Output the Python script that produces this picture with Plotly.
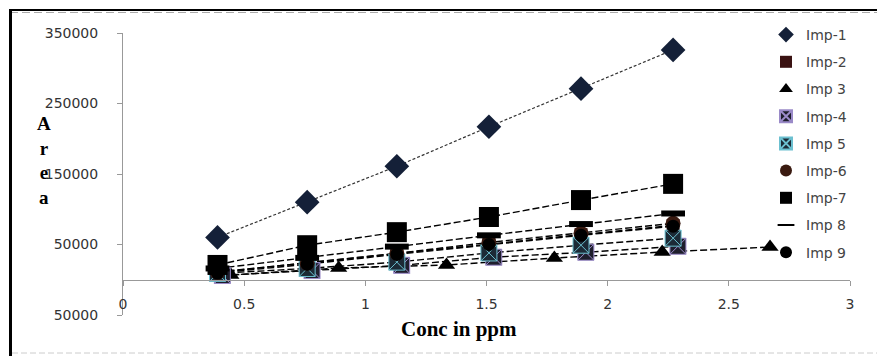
import plotly.graph_objects as go

# ---- data ----
conc = [0.39, 0.76, 1.13, 1.51, 1.89, 2.27]
conc_imp3 = [0.445, 0.89, 1.335, 1.78, 2.225, 2.67]
conc_imp4 = [0.41, 0.78, 1.15, 1.53, 1.91, 2.29]

imp1 = [60000, 110000, 161000, 217000, 271000, 326000]
imp2 = [11000, 24000, 38000, 51000, 64000, 77000]
imp3 = [6700, 16700, 20900, 30800, 39300, 46400]
imp4 = [6000, 13000, 20500, 32000, 39000, 47500]
imp5 = [9000, 16000, 25000, 38000, 49000, 59000]
imp6 = [10500, 23500, 37500, 53000, 66000, 80000]
imp7 = [21000, 49000, 67500, 89000, 113000, 136000]
imp8 = [16000, 31000, 47000, 63000, 79000, 94000]
imp9 = [9500, 22000, 36000, 50000, 63000, 76000]

names = ["Imp-1", "Imp-2", "Imp 3", "Imp-4", "Imp 5", "Imp-6", "Imp-7", "Imp 8", "Imp 9"]
xs = [conc, conc, conc_imp3, conc_imp4, conc, conc, conc, conc, conc]
ys = [imp1, imp2, imp3, imp4, imp5, imp6, imp7, imp8, imp9]

y_tickvals = [-50000, 50000, 150000, 250000, 350000]
y_ticktext = ["50000", "50000", "150000", "250000", "350000"]
x_tickvals = [0, 0.5, 1, 1.5, 2, 2.5, 3]
x_ticktext = ["0", "0.5", "1", "1.5", "2", "2.5", "3"]

# ---- styles ----
styles = [
    dict(symbol="diamond", size=19, color="#142038", line=dict(width=0)),
    dict(symbol="square", size=13, color="#3a1212", line=dict(width=0)),
    dict(symbol="triangle-up", size=15, color="#000000", line=dict(width=0)),
    dict(symbol="square-x", size=16, color="#1e1e2c", line=dict(width=1, color="#9a8ac8")),
    dict(symbol="square-x", size=16, color="#1c2a36", line=dict(width=1, color="#6cc0d0")),
    dict(symbol="circle", size=15, color="#3a1a10", line=dict(width=0)),
    dict(symbol="square", size=20, color="#000000", line=dict(width=0)),
    dict(symbol="line-ew", size=17, color="#000000", line=dict(width=6, color="#000000")),
    dict(symbol="circle", size=13, color="#000000", line=dict(width=0)),
]
line_styles = [dict(color="#333", width=1.2, dash="3px,2px")] + \
    [dict(color="#000", width=1.4, dash="7px,3px")] * 8

W, H = 877, 356
L, R, T, B = 123, 27, 33, 41
pw, ph = W - L - R, H - T - B


def px(x):
    return (x - L) / pw


def py(y):
    return (H - B - y) / ph


fig = go.Figure()
for i in range(9):
    fig.add_trace(go.Scatter(x=xs[i], y=ys[i], mode="lines", line=line_styles[i],
                             showlegend=False, hoverinfo="skip"))
for i in range(9):
    fig.add_trace(go.Scatter(x=xs[i], y=ys[i], mode="markers", name=names[i],
                             marker=styles[i], legendgroup=names[i]))

tickfont = dict(family="DejaVu Sans", size=14, color="#333")
fig.update_layout(
    width=W, height=H,
    margin=dict(l=L, r=R, t=T, b=B),
    paper_bgcolor="white", plot_bgcolor="white",
    showlegend=True,
    legend=dict(x=px(766), y=py(19), xanchor="left", yanchor="top",
                font=dict(family="DejaVu Sans", size=14, color="#444"),
                itemsizing="constant", traceorder="grouped", tracegroupgap=6,
                bgcolor="rgba(0,0,0,0)", itemwidth=30, maxheight=400),
    xaxis=dict(range=[0, 3], tickvals=x_tickvals, ticktext=x_ticktext,
               showgrid=False, zeroline=False, showline=True, linecolor="#999",
               linewidth=1, ticks="outside", ticklen=5, tickcolor="#999",
               tickfont=tickfont, anchor="free", position=0.125,
               ticklabelstandoff=6),
    yaxis=dict(range=[-50000, 350000], tickvals=y_tickvals, ticktext=y_ticktext,
               showgrid=False, zeroline=False, showline=True, linecolor="#999",
               linewidth=1, ticks="outside", ticklen=5, tickcolor="#999",
               tickfont=tickfont, ticklabelstandoff=16),
)

fig.add_annotation(text="<b>A<br>r<br>e<br>a</b>", xref="paper", yref="paper",
                   x=px(44), y=py(160), showarrow=False, align="center",
                   xanchor="center", yanchor="middle",
                   font=dict(family="Liberation Serif", size=19, color="#000"))
fig.add_annotation(text="<b>Conc in ppm</b>", xref="paper", yref="paper",
                   x=px(459), y=py(329), showarrow=False,
                   xanchor="center", yanchor="middle",
                   font=dict(family="Liberation Serif", size=21, color="#000"))

# frame
fig.add_shape(type="line", xref="paper", yref="paper", x0=px(9), x1=px(877),
              y0=py(10), y1=py(10), line=dict(color="#000", width=2))
fig.add_shape(type="line", xref="paper", yref="paper", x0=px(10), x1=px(877),
              y0=py(12.5), y1=py(12.5), line=dict(color="#aaa", width=1, dash="8px,4px"))
fig.add_shape(type="line", xref="paper", yref="paper", x0=px(10.5), x1=px(10.5),
              y0=py(9), y1=py(356), line=dict(color="#000", width=3))
fig.add_shape(type="line", xref="paper", yref="paper", x0=px(12), x1=px(877),
              y0=py(353), y1=py(353), line=dict(color="#ccc", width=1, dash="6px,3px"))

fig.write_html("out.html")
